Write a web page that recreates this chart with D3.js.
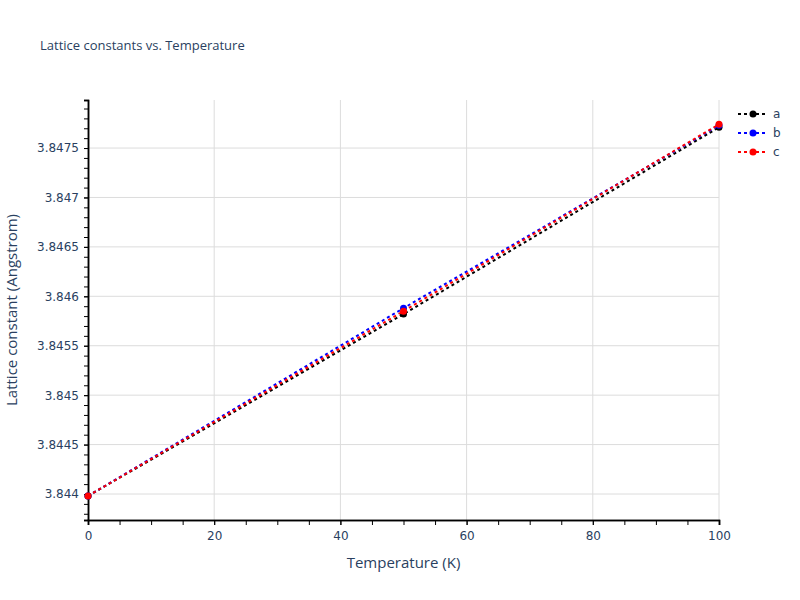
<!DOCTYPE html>
<html>
<head>
<meta charset="utf-8">
<script src="https://cdn.jsdelivr.net/npm/d3@7"></script>
<style>
  body { margin: 0; background: #fff; }
  svg { font-family: "Open Sans", verdana, arial, sans-serif; }
</style>
</head>
<body>
<div id="chart"></div>
<script>
// values
const temperatures = [0, 50, 100];
const seriesNames = ['a', 'b', 'c'];
const aValues = [3.84398, 3.84582, 3.84771];
const bValues = [3.84398, 3.84588, 3.84773];
const cValues = [3.84398, 3.84585, 3.84774];
const seriesColors = ['black', 'blue', 'red'];
const xTicks = [0, 20, 40, 60, 80, 100];
const yTicks = [3.844, 3.8445, 3.845, 3.8455, 3.846, 3.8465, 3.847, 3.8475];

const width = 800, height = 600;
const margin = { left: 88, right: 81, top: 100, bottom: 80 };

const series = seriesNames.map((name, i) => ({
  name,
  color: seriesColors[i],
  values: [aValues, bValues, cValues][i].map((v, j) => ({ t: temperatures[j], v }))
}));

const svg = d3.select('#chart').append('svg')
    .attr('width', width)
    .attr('height', height);

const x = d3.scaleLinear().domain([0, 100]).range([margin.left, width - margin.right]);
const y = d3.scaleLinear().domain([3.843737, 3.847986]).range([height - margin.bottom, margin.top]);

const textColor = '#2a3f5f';
const tickFont = 'DejaVu Sans';

// grid
svg.append('g')
    .attr('stroke', '#dcdcdc')
    .attr('stroke-width', 1)
  .selectAll('line')
  .data(xTicks.filter(d => d > 0))
  .join('line')
    .attr('x1', d => x(d)).attr('x2', d => x(d))
    .attr('y1', margin.top).attr('y2', height - margin.bottom);

svg.append('g')
    .attr('stroke', '#dcdcdc')
    .attr('stroke-width', 1)
  .selectAll('line')
  .data(yTicks)
  .join('line')
    .attr('x1', margin.left).attr('x2', width - margin.right)
    .attr('y1', d => y(d)).attr('y2', d => y(d));

// minor ticks
const xMinor = d3.range(0, 101, 5);
const yMinor = d3.range(38438, 38480).map(d => d / 10000);

const xAxis = svg.append('g')
    .attr('transform', `translate(0,${height - margin.bottom})`);
xAxis.call(d3.axisBottom(x).tickValues(xMinor).tickSize(5).tickFormat(''));
xAxis.append('g')
    .call(d3.axisBottom(x).tickValues(xTicks).tickSize(5).tickPadding(6).tickFormat(d3.format('d')));
xAxis.selectAll('path.domain').attr('stroke', 'black').attr('stroke-width', 1.5);
xAxis.selectAll('line').attr('stroke', 'black');
xAxis.selectAll('g').attr('font-family', null).attr('font-size', null);
xAxis.selectAll('text')
    .attr('fill', textColor)
    .attr('font-family', tickFont)
    .attr('font-size', 12);

const yAxis = svg.append('g')
    .attr('transform', `translate(${margin.left},0)`);
yAxis.call(d3.axisLeft(y).tickValues(yMinor).tickSize(4).tickFormat(''));
yAxis.append('g')
    .call(d3.axisLeft(y).tickValues(yTicks).tickSize(4).tickPadding(5).tickFormat(d => +d.toFixed(4)));
yAxis.selectAll('path.domain').attr('stroke', 'black').attr('stroke-width', 1.5);
yAxis.selectAll('line').attr('stroke', 'black');
yAxis.selectAll('text')
    .attr('fill', textColor)
    .attr('font-family', tickFont)
    .attr('font-size', 12);

// lines
const line = d3.line().x(d => x(d.t)).y(d => y(d.v));

const traces = svg.append('g')
  .selectAll('g')
  .data(series)
  .join('g');

traces.append('path')
    .attr('d', d => line(d.values))
    .attr('fill', 'none')
    .attr('stroke', d => d.color)
    .attr('stroke-width', 2)
    .attr('stroke-dasharray', '3,3');

traces.selectAll('circle')
  .data(d => d.values.map(p => ({ ...p, color: d.color })))
  .join('circle')
    .attr('cx', d => x(d.t))
    .attr('cy', d => y(d.v))
    .attr('r', 3.5)
    .attr('fill', d => d.color);

// legend
const legend = svg.append('g')
  .selectAll('g')
  .data(series)
  .join('g')
    .attr('transform', (d, i) => `translate(738,${114 + i * 19})`);

legend.append('line')
    .attr('x1', 0).attr('x2', 30)
    .attr('stroke', d => d.color)
    .attr('stroke-width', 2)
    .attr('stroke-dasharray', '3,3');
legend.append('circle')
    .attr('cx', 15)
    .attr('r', 3.5)
    .attr('fill', d => d.color);
legend.append('text')
    .attr('x', 35)
    .attr('dy', '0.35em')
    .attr('fill', textColor)
    .attr('font-family', tickFont)
    .attr('font-size', 12)
    .text(d => d.name);

// titles
svg.append('text')
    .attr('x', 40).attr('y', 50)
    .attr('fill', textColor)
    .style('font-size', '13px')
    .text('Lattice constants vs. Temperature');

svg.append('text')
    .attr('x', (margin.left + width - margin.right) / 2)
    .attr('y', 568)
    .attr('text-anchor', 'middle')
    .attr('fill', textColor)
    .style('font-size', '15px')
    .text('Temperature (K)');

svg.append('text')
    .attr('transform', `translate(17,${(margin.top + height - margin.bottom) / 2}) rotate(-90)`)
    .attr('text-anchor', 'middle')
    .attr('fill', textColor)
    .style('font-size', '15px')
    .text('Lattice constant (Angstrom)');
</script>
</body>
</html>
